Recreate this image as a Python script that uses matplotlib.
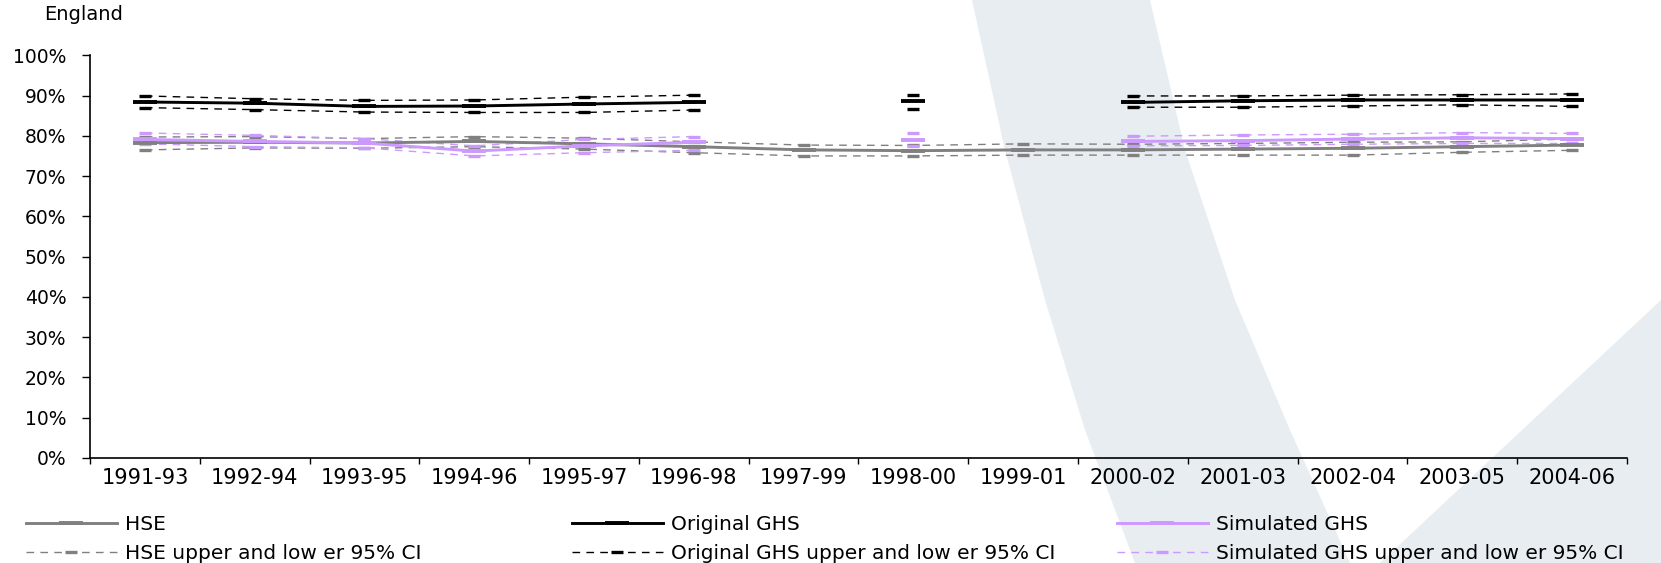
import numpy as np
import matplotlib
matplotlib.use("Agg")
import matplotlib.pyplot as plt
from matplotlib.patches import Polygon

nan = np.nan
categories = ["1991-93", "1992-94", "1993-95", "1994-96", "1995-97", "1996-98", "1997-99",
              "1998-00", "1999-01", "2000-02", "2001-03", "2002-04", "2003-05", "2004-06"]

hse = [78.3, 78.4, 78.2, 78.6, 78.0, 77.3, 76.5, 76.3, 76.5, 76.5, 76.7, 76.9, 77.3, 77.7]
hse_upper = [79.7, 79.8, 79.3, 79.8, 79.4, 78.5, 77.7, 77.6, 78.0, 77.9, 78.1, 78.4, 78.5, 79.2]
hse_lower = [76.5, 77.0, 76.9, 77.3, 76.7, 75.8, 75.0, 75.0, 75.2, 75.2, 75.2, 75.2, 75.9, 76.4]

orig = [88.4, 88.1, 87.3, 87.4, 87.9, 88.3, nan, 88.6, nan, 88.3, 88.7, 88.9, 88.9, 88.9]
orig_upper = [89.9, 89.2, 88.8, 88.9, 89.6, 90.1, nan, 90.1, nan, 89.9, 89.9, 90.1, 90.2, 90.4]
orig_lower = [87.0, 86.5, 85.9, 85.8, 85.8, 86.4, nan, 86.7, nan, 87.1, 87.1, 87.4, 87.7, 87.3]

sim = [79.1, 78.6, 78.2, 76.2, 77.5, 78.4, nan, 78.9, nan, 78.6, 78.8, 79.2, 79.5, 79.3]
sim_upper = [80.7, 80.1, 79.3, 77.5, 79.1, 79.8, nan, 80.8, nan, 79.9, 80.2, 80.4, 80.8, 80.6]
sim_lower = [78.0, 77.3, 77.0, 75.0, 75.8, 76.4, nan, 77.4, nan, 77.5, 77.6, 77.9, 78.1, 78.1]

yticks = [0, 10, 20, 30, 40, 50, 60, 70, 80, 90, 100]
ytick_labels = [f"{v}%" for v in yticks]

GREY = "#808080"
BLACK = "#000000"
LAV = "#CC99FF"
WM = "#E8EDF2"

plt.rcParams['font.family'] = ['DejaVu Sans']

W, H = 1661, 563
fig = plt.figure(figsize=(W / 100, H / 100), dpi=100, facecolor="white")

# watermark shapes (figure pixel coords, y from top)
def px(pts):
    return [(x / W, 1 - y / H) for x, y in pts]

band1 = px([(972, 0), (1150, 0), (1185, 150), (1235, 300), (1290, 430), (1350, 563),
            (1135, 563), (1085, 430), (1045, 300), (1005, 150)])
band2 = px([(1380, 563), (1661, 300), (1661, 563)])
for b in (band1, band2):
    fig.patches.append(Polygon(b, closed=True, transform=fig.transFigure,
                               facecolor=WM, edgecolor="none", zorder=-5))

ax = fig.add_axes([90 / W, 1 - 457.8 / H, (1627 - 90) / W, (457.8 - 55.3) / H])
ax.set_facecolor("none")

x = np.arange(len(categories))
dash = (0, (5.5, 4.5))
ci_kw = dict(lw=1.0, ls=dash, marker="_", ms=9, mew=2.4)

h_hse_ci, = ax.plot(x, hse_upper, color=GREY, label="HSE upper and low er 95% CI", **ci_kw)
ax.plot(x, hse_lower, color=GREY, **ci_kw)
h_orig_ci, = ax.plot(x, orig_upper, color=BLACK, label="Original GHS upper and low er 95% CI", **ci_kw)
ax.plot(x, orig_lower, color=BLACK, **ci_kw)
h_sim_ci, = ax.plot(x, sim_upper, color=LAV, label="Simulated GHS upper and low er 95% CI", **ci_kw)
ax.plot(x, sim_lower, color=LAV, **ci_kw)

main_kw = dict(lw=2.1, ls="-", marker="_", ms=17, mew=2.8)
h_hse, = ax.plot(x, hse, color=GREY, label="HSE", **main_kw)
h_orig, = ax.plot(x, orig, color=BLACK, label="Original GHS", **main_kw)
h_sim, = ax.plot(x, sim, color=LAV, label="Simulated GHS", **main_kw)

ax.set_xlim(-0.5, len(categories) - 0.5)
ax.set_ylim(0, 100)
ax.set_yticks(yticks)
ax.set_yticklabels(ytick_labels)
ax.tick_params(axis="y", direction="out", length=5.5, width=1, pad=11.5, labelsize=13.5)

ax.set_xticks(np.arange(len(categories) + 1) - 0.5)
ax.set_xticklabels([])
ax.set_xticks(x, minor=True)
ax.set_xticklabels(categories, minor=True)
ax.tick_params(axis="x", which="major", direction="out", length=4, width=1)
ax.tick_params(axis="x", which="minor", length=0, pad=7, labelsize=15)

for s in ("top", "right"):
    ax.spines[s].set_visible(False)
for s in ("left", "bottom"):
    ax.spines[s].set_linewidth(1.2)

fig.text(44 / W, 1 - 14 / H, "England", fontsize=14, ha="left", va="center")

leg_kw = dict(loc="center left", frameon=False, fontsize=14.5, borderpad=0,
              borderaxespad=0, handlelength=4.5, handletextpad=0.4,
              labelspacing=0.5, numpoints=1)
cy = 1 - 539 / H
for hs, xpos in (([h_hse, h_hse_ci], 26), ([h_orig, h_orig_ci], 572), ([h_sim, h_sim_ci], 1117)):
    lg = fig.legend(handles=hs, bbox_to_anchor=(xpos / W, cy), **leg_kw)

fig.savefig("out.png", dpi=100, facecolor="white")
